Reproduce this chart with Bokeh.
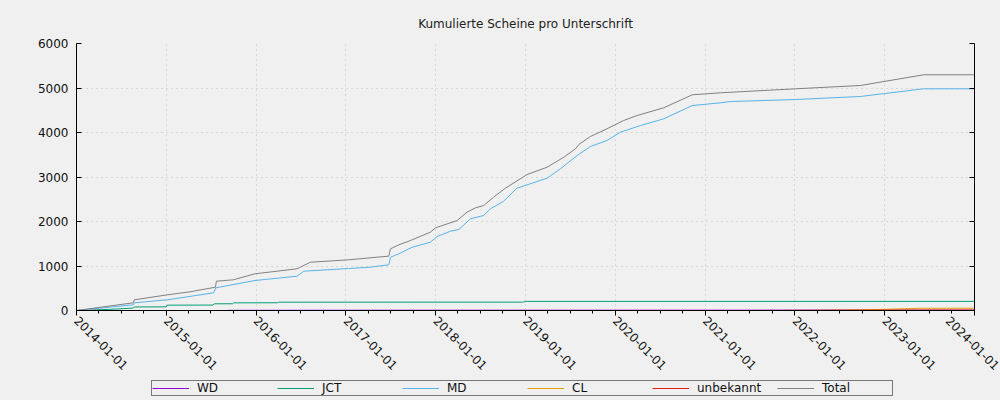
import pandas as pd
from bokeh.plotting import figure
from bokeh.layouts import column
from bokeh.models import (Range1d, LinearAxis, FixedTicker, DatetimeTickFormatter,
                          Legend, LegendItem)
from bokeh.embed import file_html
from bokeh.resources import INLINE

title_text = "Kumulierte Scheine pro Unterschrift"

wd_dates = ["2015-09-05", "2015-09-12", "2017-06-01", "2024-01-01"]
wd_values = [0, 4, 6, 8]

jct_dates = ["2014-01-01", "2014-05-15", "2014-08-20", "2014-08-24", "2015-01-01",
             "2015-01-05", "2015-07-10", "2015-07-15", "2015-09-28", "2015-10-02",
             "2016-03-28", "2016-04-01", "2018-12-20", "2019-01-05", "2024-01-01"]
jct_values = [0, 25, 55, 80, 82, 120, 122, 150, 152, 172, 174, 187, 188, 205, 205]

md_dates = ["2014-01-01", "2014-08-20", "2014-08-24", "2015-01-05", "2015-07-12",
            "2015-07-22", "2015-12-28", "2016-06-16", "2016-07-13", "2017-01-12",
            "2017-04-10", "2017-06-24", "2017-07-01", "2017-08-04", "2017-09-27",
            "2017-12-10", "2018-01-07", "2018-03-02", "2018-04-05", "2018-05-22",
            "2018-07-15", "2018-08-11", "2018-10-04", "2018-11-27", "2019-03-30",
            "2019-05-23", "2019-07-30", "2019-09-22", "2019-11-28", "2020-01-22",
            "2020-04-13", "2020-07-16", "2020-11-09", "2021-03-04", "2021-04-14",
            "2022-01-03", "2022-09-24", "2023-06-08", "2024-01-01"]
md_values = [0, 128, 173, 240, 397, 510, 674, 771, 883, 944,
             973, 1027, 1198, 1274, 1422, 1535, 1663, 1782, 1820, 2060,
             2135, 2285, 2456, 2748, 2973, 3184, 3483, 3685, 3820, 4007,
             4157, 4307, 4606, 4667, 4696, 4741, 4809, 4982, 4982]

cl_dates = ["2022-04-15", "2022-10-01", "2023-05-25", "2024-01-01"]
cl_values = [0, 12, 50, 52]

unb_dates = ["2021-06-15", "2022-08-01", "2024-01-01"]
unb_values = [0, 8, 10]

total_dates = ["2014-01-01", "2014-08-20", "2014-08-24", "2015-01-05", "2015-04-08",
               "2015-07-20", "2015-07-24", "2015-10-01", "2015-12-28", "2016-06-16",
               "2016-08-09", "2017-01-12", "2017-04-10", "2017-06-24", "2017-07-01",
               "2017-08-04", "2017-09-20", "2017-12-10", "2017-12-31", "2018-03-29",
               "2018-05-08", "2018-06-11", "2018-07-15", "2018-08-24", "2018-10-11",
               "2019-01-08", "2019-03-30", "2019-04-26", "2019-06-06", "2019-07-23",
               "2019-08-06", "2019-09-22", "2019-11-28", "2020-02-04", "2020-03-30",
               "2020-07-16", "2020-11-09", "2021-03-04", "2022-01-03", "2022-09-24",
               "2023-06-08", "2024-01-01"]
total_values = [0, 173, 240, 352, 420, 524, 659, 690, 825, 937,
                1085, 1139, 1184, 1221, 1386, 1476, 1573, 1760, 1858, 2022,
                2209, 2306, 2359, 2546, 2748, 3056, 3220, 3310, 3445, 3633,
                3730, 3910, 4082, 4269, 4382, 4555, 4847, 4892, 4982, 5056,
                5297, 5297]

series_names = ["WD", "JCT", "MD", "CL", "unbekannt", "Total"]
series_colors = ["#9400d3", "#009e73", "#56b4e9", "#e69f00", "#e51e10", "#808080"]
series_data = [(wd_dates, wd_values), (jct_dates, jct_values), (md_dates, md_values),
               (cl_dates, cl_values), (unb_dates, unb_values), (total_dates, total_values)]

year_ticks = ["2014-01-01", "2015-01-01", "2016-01-01", "2017-01-01", "2018-01-01",
              "2019-01-01", "2020-01-01", "2021-01-01", "2022-01-01", "2023-01-01",
              "2024-01-01"]
y_ticks = [0, 1000, 2000, 3000, 4000, 5000, 6000]


def ms(d):
    return pd.Timestamp(d).timestamp() * 1000.0


quarter_ticks = [ms(d) for d in pd.date_range("2014-01-01", "2024-01-01", freq="QS")]
major_x = [ms(d) for d in year_ticks]

BG = "#f0f0f0"
FONT = "DejaVu Sans"

p = figure(frame_width=898, frame_height=267, x_axis_type="datetime",
           output_backend="svg", toolbar_location=None,
           x_range=Range1d(ms("2014-01-01"), ms("2024-01-01")),
           y_range=Range1d(0, 6000),
           min_border_left=76, min_border_right=26, min_border_top=43,
           min_border_bottom=70)
p.background_fill_color = BG
p.border_fill_color = BG
p.outline_line_color = None

p.title.text = title_text
p.title.align = "center"
p.title.text_font = FONT
p.title.text_font_size = "12px"
p.title.text_font_style = "normal"
p.title.text_color = "#222222"
p.title.standoff = 26

renderers = []
for name, color, (ds, vs) in zip(series_names, series_colors, series_data):
    xs = pd.to_datetime(ds)
    r = p.line(xs, vs, line_color=color, line_width=1)
    renderers.append(r)

xtick = FixedTicker(ticks=major_x, minor_ticks=quarter_ticks)
ytick = FixedTicker(ticks=y_ticks)

xa = p.xaxis[0]
xa.ticker = xtick
fmt = "%Y-%m-%d"
xa.formatter = DatetimeTickFormatter(years=fmt, months=fmt, days=fmt, hours=fmt,
                                     minutes=fmt, seconds=fmt, milliseconds=fmt,
                                     minsec=fmt, hourmin=fmt, microseconds=fmt)
xa.major_label_orientation = -0.785398
xa.major_label_text_font = FONT
xa.major_label_text_font_size = "12px"
xa.major_label_text_color = "#111111"
xa.major_tick_in = 0
xa.major_tick_out = 5
xa.minor_tick_in = 0
xa.minor_tick_out = 3
xa.axis_line_color = "black"
xa.major_label_standoff = 3

ya = p.yaxis[0]
ya.ticker = ytick
ya.major_tick_in = 5
ya.major_tick_out = 0
ya.minor_tick_line_color = None
ya.major_label_text_font = FONT
ya.major_label_text_font_size = "12px"
ya.major_label_text_color = "#111111"
ya.major_label_standoff = 8
ya.axis_line_color = "black"

ra = LinearAxis(ticker=ytick, major_tick_in=5, major_tick_out=0,
                minor_tick_line_color=None,
                major_label_overrides={v: "" for v in y_ticks},
                major_label_standoff=0, major_label_text_font_size="1px")
p.add_layout(ra, "right")

p.xgrid.ticker = xtick
p.ygrid.ticker = ytick
for g in (p.xgrid[0], p.ygrid[0]):
    g.grid_line_color = "#c0c0c0"
    g.grid_line_dash = "1 4"
    g.grid_line_width = 1

# Legend strip below the chart (separate small figure holding the key)
lg = figure(width=1000, height=20, output_backend="svg", toolbar_location=None,
            x_range=Range1d(0, 1), y_range=Range1d(0, 1),
            x_axis_location=None, y_axis_location=None,
            min_border_left=0, min_border_right=0, min_border_top=0, min_border_bottom=0)
lg.background_fill_color = BG
lg.border_fill_color = BG
lg.outline_line_color = None
lg.xgrid.visible = False
lg.ygrid.visible = False

nan = float("nan")
key_renderers = [lg.line([nan], [nan], line_color=c, line_width=1) for c in series_colors]

legend = Legend(items=[LegendItem(label=n, renderers=[r]) for n, r in zip(series_names, key_renderers)],
                orientation="horizontal", location=(75, 4),
                glyph_width=37, glyph_height=12, label_standoff=8,
                label_width=70, label_height=12, spacing=10, padding=0, margin=0,
                border_line_color="black", border_line_width=1,
                background_fill_color=BG, background_fill_alpha=1,
                label_text_font=FONT, label_text_font_size="12px",
                label_text_color="#111111")
lg.add_layout(legend, "center")

layout = column(p, lg, spacing=0)
layout.styles = {"background-color": BG}

open("out.html", "w").write(file_html(layout, INLINE))
